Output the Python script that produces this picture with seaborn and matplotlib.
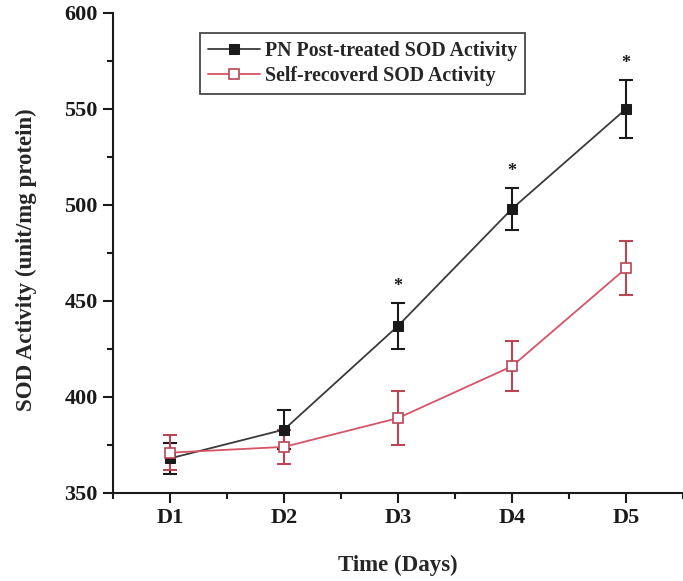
import numpy as np
import pandas as pd
import matplotlib
matplotlib.use("Agg")
import matplotlib.pyplot as plt
import matplotlib.ticker as mticker
import seaborn as sns

# ── Data ─────────────────────────────────────────────────
days       = [1, 2, 3, 4, 5]
day_labels = ["D1", "D2", "D3", "D4", "D5"]

pn_mean   = [368, 383, 437, 498, 550]
pn_err    = [8, 10, 12, 11, 15]
self_mean = [371, 374, 389, 416, 467]
self_err  = [9, 9, 14, 13, 14]
signif    = [False, False, True, True, True]

# ── Style ─────────────────────────────────────────────────
BLACK  = "#1a1a1a"
LINE_K = "#3a3a3a"
RED    = "#d65468"
RED_E  = "#b84656"

sns.set_theme(style="ticks")
plt.rcParams.update({
    "font.family"      : ["Liberation Serif", "DejaVu Serif"],
    "font.weight"      : "bold",
    "axes.labelweight" : "bold",
    "axes.edgecolor"   : BLACK,
    "axes.linewidth"   : 1.5,
    "xtick.color"      : BLACK,
    "ytick.color"      : BLACK,
})

fig = plt.figure(figsize=(6.83, 5.81), dpi=100)
ax = fig.add_axes([0.1655, 0.1515, 0.8345, 0.8263])

df = pd.DataFrame({"day": days, "pn": pn_mean, "self": self_mean})

# error bars first, lines + markers on top
ax.errorbar(days, pn_mean, yerr=pn_err, fmt="none", ecolor=BLACK,
            elinewidth=1.5, capsize=5, capthick=1.5, zorder=2)
ax.errorbar(days, self_mean, yerr=self_err, fmt="none", ecolor=RED_E,
            elinewidth=1.5, capsize=5, capthick=1.5, zorder=2)

sns.lineplot(data=df, x="day", y="pn", ax=ax, color=LINE_K, lw=1.3,
             marker="s", markersize=7, markerfacecolor=BLACK,
             markeredgecolor=BLACK, label="PN Post-treated SOD Activity", zorder=3)
sns.lineplot(data=df, x="day", y="self", ax=ax, color=RED, lw=1.3,
             marker="s", markersize=7, markerfacecolor="white",
             markeredgecolor=RED_E, markeredgewidth=1.2,
             label="Self-recoverd SOD Activity", zorder=3)

# significance stars
for d, m, e, s in zip(days, pn_mean, pn_err, signif):
    if s:
        ax.text(d, m + e + 4, "*", ha="center", va="bottom",
                fontsize=13, color=BLACK)

ax.set_xlim(0.5, 5.5)
ax.set_ylim(350, 600)
ax.set_xticks(days)
ax.set_xticklabels(day_labels)
ax.xaxis.set_minor_locator(mticker.MultipleLocator(0.5))
ax.yaxis.set_major_locator(mticker.MultipleLocator(50))
ax.yaxis.set_minor_locator(mticker.MultipleLocator(25))
ax.tick_params(which="major", direction="out", length=7, width=1.5,
               labelsize=16, pad=4)
ax.tick_params(which="minor", direction="out", length=4, width=1.5)

ax.set_xlabel("Time (Days)", fontsize=16.5, labelpad=19)
ax.set_ylabel("SOD Activity (unit/mg protein)", fontsize=16.5)
ax.yaxis.set_label_coords(-0.133, 0.485)

sns.despine(ax=ax)

leg = ax.legend(loc="upper left", bbox_to_anchor=(0.153, 0.958),
                borderaxespad=0, fancybox=False, frameon=True,
                edgecolor=BLACK, fontsize=14.3, handlelength=2.6,
                handletextpad=0.25, borderpad=0.4, labelspacing=0.25)
leg.get_frame().set_linewidth(1.3)

fig.savefig("out.png", dpi=100)
plt.close()
